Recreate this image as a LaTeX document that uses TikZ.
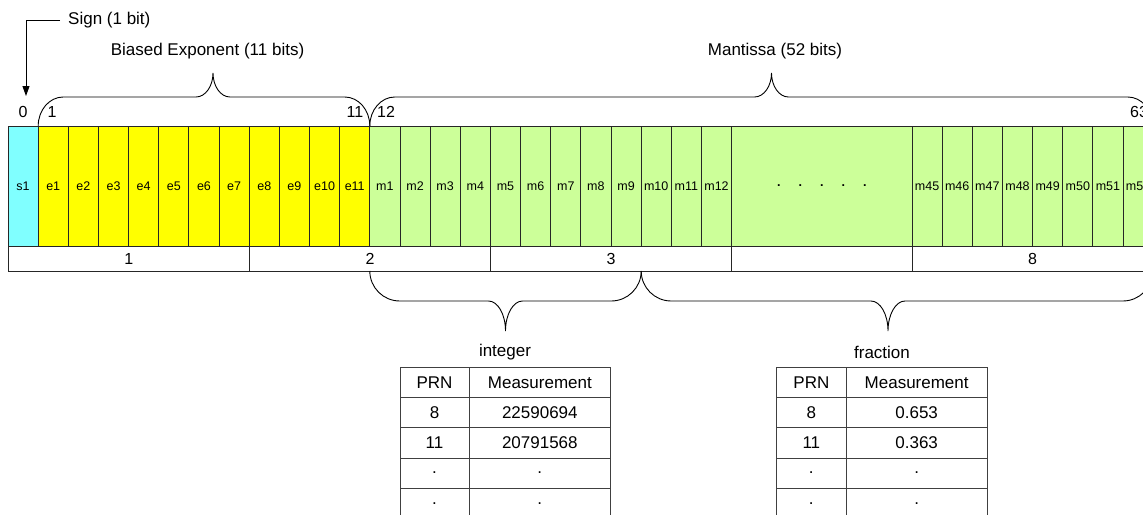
\documentclass[tikz,border=0pt]{standalone}
\usepackage{fontspec}
\setmainfont{Liberation Sans}
\usepackage{tikz}
\usetikzlibrary{arrows.meta}
\usetikzlibrary{positioning}
\definecolor{signcyan}{RGB}{128,255,255}
\definecolor{expyellow}{RGB}{255,255,0}
\definecolor{mangreen}{RGB}{204,255,153}
\newcommand{\cellw}{30.15}
\newcommand{\rowh}{30.1}
% #1 left x, #2 right x, #3 tip x, #4 end y, #5 mid y, #6 tip y, #7 end radius
\newcommand{\bitbrace}[7]{%
	\draw[bracepath] (#1,#4) .. controls (#1,{#4+0.552*(#5-#4)}) and ({#1+0.448*#7},#5) .. ({#1+#7},#5)
	-- ({#3-17},#5) .. controls ({#3-7.6},#5) and (#3,{#6+0.552*(#5-#6)}) .. (#3,#6)
	.. controls (#3,{#6+0.552*(#5-#6)}) and ({#3+7.6},#5) .. ({#3+17},#5)
	-- ({#2-#7},#5) .. controls ({#2-0.448*#7},#5) and (#2,{#4+0.552*(#5-#4)}) .. (#2,#4);}

\begin{document}
\begin{tikzpicture}[x=1pt,y=-1pt,
	bitcell/.style={draw=black!85, line width=0.9pt, minimum width=\cellw pt,
		minimum height=120pt, inner sep=0, outer sep=0, anchor=north west,
		font=\fontsize{12.5}{14}\selectfont},
	bytecell/.style={draw=black!85, line width=0.9pt, minimum height=25pt,
		inner sep=0, outer sep=0, anchor=north west, font=\fontsize{16}{18}\selectfont},
	tabcell/.style={draw=black!75, line width=0.9pt, minimum height=\rowh pt,
		inner sep=0, outer sep=0, anchor=north west, font=\fontsize{17}{20}\selectfont},
	idx/.style={inner sep=1pt, font=\fontsize{16}{18}\selectfont},
	ttl/.style={inner sep=1pt, font=\fontsize{17}{20}\selectfont},
	bracepath/.style={draw=black, line width=0.9pt},
	signarrow/.style={draw=black, line width=0.9pt, -{Triangle[length=10pt,width=7pt]}}]
	
	\useasboundingbox (0,0) rectangle (1143,514);
	\clip (0,0) rectangle (1143,514);
	
	% bit row
	\node[bitcell, fill=signcyan] (s1) at (8,126) {s1};
	\foreach \i in {1,...,11}{\node[bitcell, fill=expyellow] (e\i) at ({8+\i*\cellw},126) {e\i};}
	\foreach \i in {1,...,12}{\node[bitcell, fill=mangreen] (m\i) at ({8+(\i+11)*\cellw},126) {m\i};}
	\node[bitcell, fill=mangreen, minimum width=180.4pt, right=0pt of m12] (mdots)
		{\bfseries .\hspace{18pt}.\hspace{18pt}.\hspace{18pt}.\hspace{18pt}.};
	\foreach \i in {45,...,52}{\node[bitcell, fill=mangreen] (m\i) at ({912+(\i-45)*\cellw},126) {m\i};}
	
	% byte row
	\foreach \n/\x/\w/\t in {byte1/8/241.5/1, byte2/249.5/241/2, byte3/490.5/241.1/3,
		bytegap/731.6/180.4/{}, byte8/912/241.2/8}{
		\node[bytecell, minimum width=\w pt] (\n) at (\x,246) {\t};}
	
	% bit numbers
	\foreach \n/\x/\t in {idx0/23/0, idx1/52/1, idx11/355/11, idx12/386/12, idx63/1139/63}{
		\node[idx] (\n) at (\x,112) {\t};}
	
	% sign
	\node[ttl, anchor=west, inner sep=0] (sign) at (68,20.5) {Sign (1 bit)};
	\coordinate (signtip) at (26,96);
	\draw[signarrow] ([xshift=-8pt]sign.west) -| (signtip);
	
	% braces
	\node[ttl] (exptitle) at (207.5,51) {Biased Exponent (11 bits)};
	\node[ttl] (mantitle) at (775,51) {Mantissa (52 bits)};
	\bitbrace{38.2}{369.8}{213}{126}{97}{73}{25}
	\bitbrace{369.8}{1152.8}{771.5}{126}{97}{73}{25}
	\bitbrace{369.8}{641.2}{505.5}{271}{301}{331}{30}
	\bitbrace{641.2}{1152.8}{888}{271}{301}{331}{30}
	
	% tables
	\node[ttl] (inttitle) at (505,352) {integer};
	\node[ttl] (fractitle) at (882,352) {fraction};
	\foreach \row/\prn/\meas in {0/PRN/Measurement, 1/8/22590694, 2/11/20791568, 3/./., 4/./.}{
		\node[tabcell, minimum width=69pt] (intprn\row) at (400,{367.7+\row*\rowh}) {\prn};
		\node[tabcell, minimum width=141.7pt] (intmeas\row) at (469,{367.7+\row*\rowh}) {\meas};}
	\foreach \row/\prn/\meas in {0/PRN/Measurement, 1/8/0.653, 2/11/0.363, 3/./., 4/./.}{
		\node[tabcell, minimum width=69.3pt] (fracprn\row) at (776.7,{367.7+\row*\rowh}) {\prn};
		\node[tabcell, minimum width=141.3pt] (fracmeas\row) at (846,{367.7+\row*\rowh}) {\meas};}
\end{tikzpicture}
\end{document}
